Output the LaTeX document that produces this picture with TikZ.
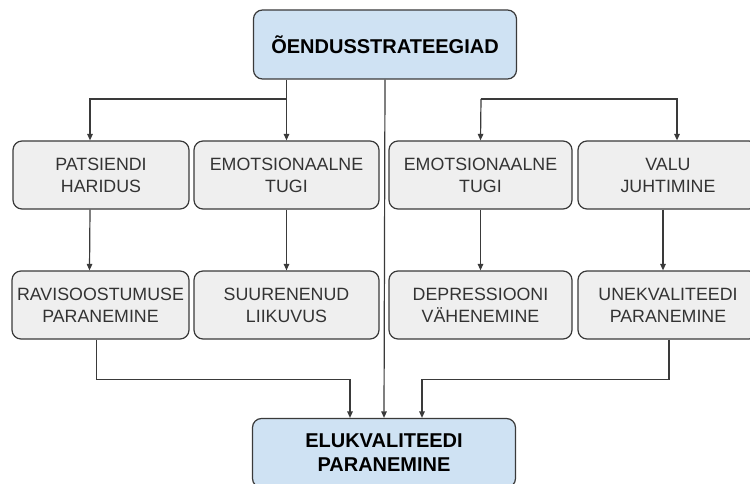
\documentclass[tikz,border=0pt]{standalone}
\usepackage{fontspec}
\setmainfont{Liberation Sans}
\usepackage{tikz}
\usetikzlibrary{calc, positioning, arrows.meta}

\definecolor{boxgray}{HTML}{EFEFEF}
\definecolor{boxblue}{HTML}{CFE2F3}
\definecolor{edge}{HTML}{3A3A3A}

\begin{document}
\begin{tikzpicture} [x = 1pt, y = -1pt, >={Triangle[length=6.5pt, width=5.5pt]}]
        \tikzset{
            box/.style = {draw=edge, line width=1.2pt, rounded corners=9pt, fill=boxgray,
                align=center, inner sep=0pt, text=black!80,
                font=\fontsize{17.8}{22}\selectfont},
            mainbox/.style = {box, fill=boxblue, text=black,
                font=\bfseries\fontsize{20}{24}\selectfont,
                minimum width=263pt, minimum height=69pt},
            link/.style = {->, draw=edge, line width=1.2pt}
        }
        \useasboundingbox (0,0) rectangle (750,484);
        % top and bottom
        \node[mainbox] (strat) at (385,44.5) {ÕENDUSSTRATEEGIAD};
        \node[mainbox] (elu) at (384,453) {ELUKVALITEEDI\\PARANEMINE};
        % strategies
        \node[box, minimum width=176pt, minimum height=68pt] (haridus) at (101,175) {PATSIENDI\\HARIDUS};
        \node[box, minimum width=185pt, minimum height=68pt] (tugiA) at (286.5,175) {EMOTSIONAALNE\\TUGI};
        \node[box, minimum width=183pt, minimum height=68pt] (tugiB) at (480.5,175) {EMOTSIONAALNE\\TUGI};
        \node[box, minimum width=180pt, minimum height=68pt] (valu) at (668,175) {VALU\\JUHTIMINE};
        % outcomes
        \node[box, minimum width=177pt, minimum height=68pt] (ravi) at (100.5,305) {RAVISOOSTUMUSE\\PARANEMINE};
        \node[box, minimum width=185pt, minimum height=68pt] (liikuvus) at (286.5,305) {SUURENENUD\\LIIKUVUS};
        \node[box, minimum width=183pt, minimum height=68pt] (depr) at (480.5,305) {DEPRESSIOONI\\VÄHENEMINE};
        \node[box, minimum width=180pt, minimum height=68pt] (une) at (668,305) {UNEKVALITEEDI\\PARANEMINE};
        \coordinate (jl) at (286.5,99);
        \coordinate (jr) at (481,99);
        % strategy links
        \draw[link] (strat.south -| tugiA.north) -- (tugiA.north);
        \draw[link] (jl) -| ([xshift=-11pt]haridus.north);
        \draw[link] (jr) -- (tugiB.north);
        \draw[link] (jr) -| ([xshift=9pt]valu.north);
        \draw[link] (strat.south) -- (elu.north);
        % outcome links
        \draw[link] ([xshift=-11pt]haridus.south) -- ([xshift=-11pt]ravi.north);
        \draw[link] (tugiA.south) -- (liikuvus.north);
        \draw[link] (tugiB.south) -- (depr.north);
        \draw[link] ([xshift=-5pt]valu.south) -- ([xshift=-5pt]une.north);
        \draw[link] ([xshift=-4pt]ravi.south) -- ++(0,40) -| ([xshift=-34pt]elu.north);
        \draw[link] ([xshift=1pt]une.south) -- ++(0,40) -| ([xshift=38pt]elu.north);
    \end{tikzpicture}
\end{document}
